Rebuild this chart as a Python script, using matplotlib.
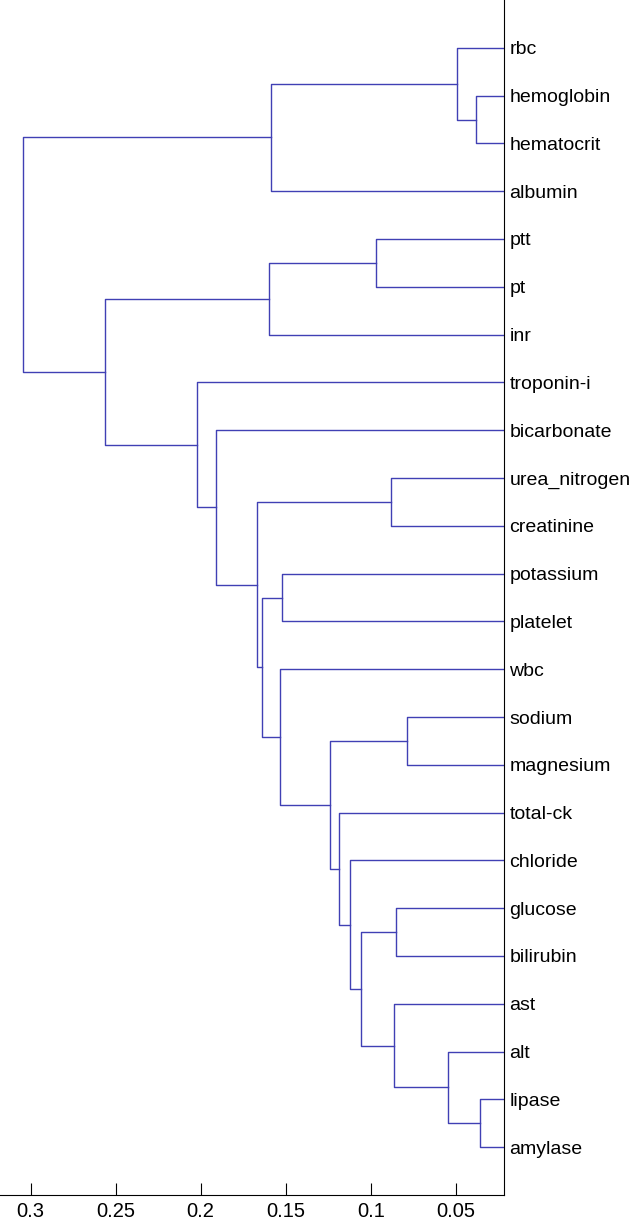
import matplotlib.pyplot as plt

# leaves, top to bottom
leaves = ['rbc', 'hemoglobin', 'hematocrit', 'albumin', 'ptt', 'pt', 'inr',
          'troponin-i', 'bicarbonate', 'urea_nitrogen', 'creatinine',
          'potassium', 'platelet', 'wbc', 'sodium', 'magnesium', 'total-ck',
          'chloride', 'glucose', 'bilirubin', 'ast', 'alt', 'lipase', 'amylase']

# merges: cluster k is called 'm<k>'
merge_a = ['hemoglobin', 'rbc', 'm1', 'ptt', 'm3', 'urea_nitrogen', 'potassium',
           'sodium', 'lipase', 'alt', 'ast', 'glucose', 'm11', 'chloride',
           'total-ck', 'm7', 'wbc', 'm6', 'm5', 'bicarbonate', 'troponin-i',
           'm4', 'm2']
merge_b = ['hematocrit', 'm0', 'albumin', 'pt', 'inr', 'creatinine', 'platelet',
           'magnesium', 'amylase', 'm8', 'm9', 'bilirubin', 'm10', 'm12',
           'm13', 'm14', 'm15', 'm16', 'm17', 'm18', 'm19', 'm20', 'm21']
merge_h = [0.0383, 0.0495, 0.1587, 0.0967, 0.1597, 0.0883, 0.1524,
           0.0784, 0.0357, 0.0548, 0.0863, 0.0850, 0.1056, 0.1124,
           0.1188, 0.1238, 0.1534, 0.1638, 0.1666, 0.1908, 0.2024,
           0.2560, 0.3045]

xticks = [0.3, 0.25, 0.2, 0.15, 0.1, 0.05]
xtick_labels = ['0.3', '0.25', '0.2', '0.15', '0.1', '0.05']

plt.rcParams['font.family'] = ['Liberation Sans', 'DejaVu Sans']

fig = plt.figure(figsize=(6.33, 12.27), dpi=100)
ax = fig.add_axes([0, 32 / 1227, 503.7 / 633, 1195 / 1227])

n = len(leaves)
pos = {name: (0.0, n - i) for i, name in enumerate(leaves)}
for k, (a, b, h) in enumerate(zip(merge_a, merge_b, merge_h)):
    xa, ya = pos[a]
    xb, yb = pos[b]
    ax.plot([xa, h, h, xb], [ya, ya, yb, yb], color='#4040b4', lw=1.0)
    pos['m%d' % k] = (h, (ya + yb) / 2)

ax.set_xlim(0.318, 0.0218)
ax.set_ylim(0, n + 1)

ax.set_xticks(xticks, xtick_labels)
ax.tick_params(axis='x', direction='in', length=9, width=0.8, labelsize=14.5, pad=5)

ax.set_yticks([n - i for i in range(n)], leaves)
ax.yaxis.tick_right()
ax.tick_params(axis='y', length=0, pad=4, labelsize=14)

for s in ['left', 'top']:
    ax.spines[s].set_visible(False)
for s in ['right', 'bottom']:
    ax.spines[s].set_linewidth(0.8)

fig.savefig('out.png', dpi=100)
